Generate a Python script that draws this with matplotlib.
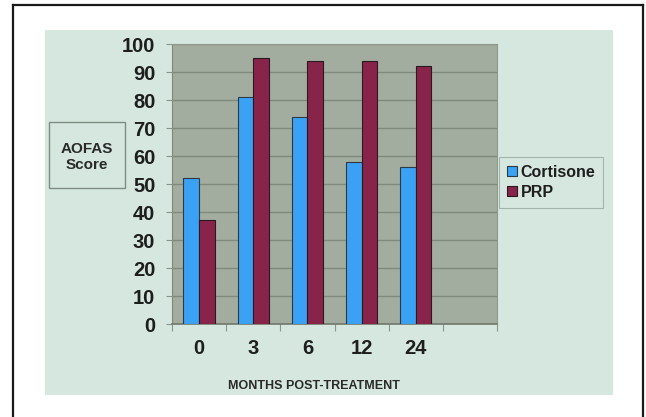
import numpy as np
import matplotlib
matplotlib.use("Agg")
import matplotlib.pyplot as plt
from matplotlib.patches import Rectangle
from matplotlib.lines import Line2D

months = ["0", "3", "6", "12", "24", ""]
cortisone = [52, 81, 74, 58, 56]
prp = [37, 95, 94, 94, 92]
series_names = ["Cortisone", "PRP"]
y_ticks = [0, 10, 20, 30, 40, 50, 60, 70, 80, 90, 100]

W, H = 646, 417
narrow = ["Liberation Sans Narrow", "Liberation Sans", "DejaVu Sans"]
plt.rcParams["font.family"] = ["Liberation Sans", "DejaVu Sans"]

fig = plt.figure(figsize=(W / 100, H / 100), dpi=100, facecolor="white")

def fx(px):
    return px / W

def fy(py):
    return 1 - py / H

# outer frame (open at the bottom)
for xs, ys in [([13.5, 13.5], [H, 4.5]), ([13.5, 643], [4.5, 4.5]), ([643, 643], [4.5, H])]:
    fig.add_artist(Line2D([fx(v) for v in xs], [fy(v) for v in ys], color="#1a1a1a", lw=1.6))

# slide background
fig.add_artist(Rectangle((fx(45), fy(395)), fx(613) - fx(45), fy(30) - fy(395),
                         facecolor="#d5e7de", edgecolor="none", zorder=0))

ax = fig.add_axes([fx(172), fy(324), fx(497) - fx(172), fy(44) - fy(324)])
ax.set_facecolor("#a2ad9f")

x = np.arange(len(cortisone))
w = 0.29
ax.bar(x - w / 2, cortisone, w, color="#3ba1f4", edgecolor="#2b3a44", linewidth=0.8,
       label=series_names[0], zorder=3)
ax.bar(x + w / 2, prp, w, color="#88244a", edgecolor="#2a1a20", linewidth=0.8,
       label=series_names[1], zorder=3)

ax.set_xlim(-0.5, len(months) - 0.5)
ax.set_ylim(0, 100)
ax.set_yticks(y_ticks)
ax.yaxis.grid(True, color="#7f8a7d", linewidth=1.0)
ax.set_axisbelow(True)

ax.set_xticks(np.arange(len(months) + 1) - 0.5)
ax.set_xticklabels([])
ax.set_xticks(np.arange(len(months)), minor=True)
ax.set_xticklabels(months, minor=True)
ax.tick_params(axis="x", which="major", length=5, color="#8d968c", direction="out")
ax.tick_params(axis="x", which="minor", length=0, pad=11)
ax.tick_params(axis="y", length=4, color="#8d968c", direction="out", pad=8)

for lab in ax.get_yticklabels() + ax.get_xticklabels(minor=True):
    lab.set_family(narrow)
    lab.set_fontweight("bold")
    lab.set_fontsize(14.5)
    lab.set_color("#1e1e1e")

for side in ["top", "right"]:
    ax.spines[side].set_color("#8f998d")
    ax.spines[side].set_linewidth(0.8)
ax.spines["left"].set_color("#7e887c")
ax.spines["bottom"].set_color("#6f786d")
ax.spines["bottom"].set_linewidth(1.2)

# y-axis caption box
fig.add_artist(Rectangle((fx(49), fy(188)), fx(125) - fx(49), fy(122) - fy(188),
                         facecolor="none", edgecolor="#7f8d85", linewidth=1.0))
fig.text(fx(87), fy(157), "AOFAS\nScore", ha="center", va="center", fontsize=11,
         fontweight="bold", color="#2a2a2a", linespacing=1.2)

fig.text(fx(314), fy(386), "MONTHS POST-TREATMENT", ha="center", va="center",
         fontsize=9, fontweight="bold", color="#2a2a2a")

leg = ax.legend(loc="upper left", bbox_to_anchor=(fx(499), fy(157)),
                bbox_transform=fig.transFigure, frameon=True, fancybox=False,
                handlelength=0.6, handleheight=0.6, handletextpad=0.25,
                borderpad=0.5, labelspacing=0.3, borderaxespad=0,
                prop={"weight": "bold", "size": 11.5})
leg.get_frame().set_facecolor("#d5e7de")
leg.get_frame().set_edgecolor("#9aa89f")
leg.get_frame().set_linewidth(0.8)
for t in leg.get_texts():
    t.set_color("#1e1e1e")

fig.savefig("out.png", dpi=100, facecolor="white")
